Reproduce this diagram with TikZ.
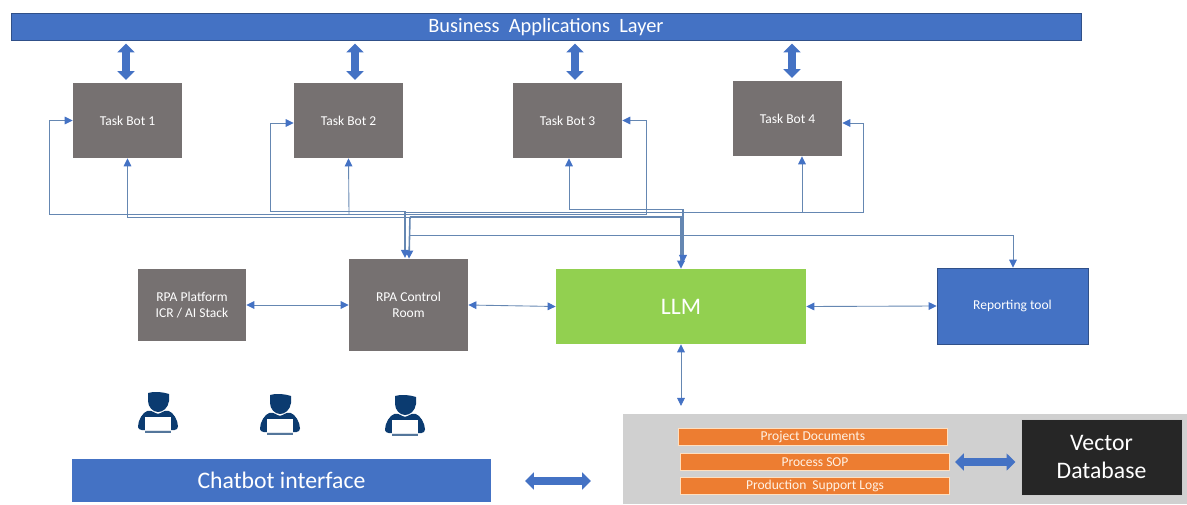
\documentclass[tikz,border=0pt]{standalone}
\usepackage{fontspec}
\setmainfont{Carlito}
\usetikzlibrary{arrows.meta}
\definecolor{barblue}{HTML}{4472C4}
\definecolor{botgray}{HTML}{767171}
\definecolor{llmgreen}{HTML}{92D050}
\definecolor{flowblue}{HTML}{6587B2}
\definecolor{paneGray}{HTML}{D0D0D0}
\definecolor{docorange}{HTML}{ED7D31}
\definecolor{agentnavy}{HTML}{0B3B70}
\tikzset{
	flow/.style={draw=flowblue, line width=0.5pt, -{Triangle[length=4.6pt,width=4.4pt,color=barblue]}},
	flowboth/.style={draw=flowblue, line width=0.5pt, {Triangle[length=4.6pt,width=4.4pt,color=barblue]}-{Triangle[length=4.6pt,width=4.4pt,color=barblue]}},
	bigflow/.style={draw=barblue, line width=4pt, {Triangle[length=5pt,width=9.5pt]}-{Triangle[length=5pt,width=9.5pt]}, shorten >=1.5pt, shorten <=1.5pt},
	plainbox/.style={inner sep=0pt, text=white, align=center, font=\fontsize{7.7}{9.3}\selectfont},
	botbox/.style={plainbox, fill=botgray, minimum width=2.18cm, minimum height=1.5cm},
	docbox/.style={plainbox, fill=docorange, draw=orange!25, line width=0.6pt, minimum width=5.37cm, minimum height=0.34cm, text=white!90!orange},
	agent/.pic={
		\fill[agentnavy] (-10,1) .. controls (-4,-1) and (5,0) .. (11,2) -- (11,9) .. controls (10,16) and (5,20) .. (0,20) .. controls (-5,20) and (-10,15) .. (-10,9) -- cycle;
		\fill[agentnavy, rounded corners=2pt] (-20,38) .. controls (-20,28) and (-15,20) .. (-7,18) -- (0,23) -- (7,18) .. controls (15,20) and (20,28) .. (20,38) -- (-20,38) -- cycle;
		\fill[white] (-13,25) rectangle (13,38);
		\fill[agentnavy!70] (-13,39) rectangle (13,41);
	}
}
\begin{document}
\begin{tikzpicture}[x=0.02cm,y=-0.02cm]
	\useasboundingbox (0,0) rectangle (1187,504);
	
	% top bar and bots
	\node[plainbox, fill=barblue, draw=barblue!70!black, line width=0.4pt, minimum width=21.4cm, minimum height=0.54cm, font=\fontsize{11.6}{13}\selectfont] (Biz) at (546,27) {Business\ \ Applications\ \ Layer};
	\node[botbox] (Bot1) at (127.5,120.5) {Task Bot 1};
	\node[botbox] (Bot2) at (348.5,120.5) {Task Bot 2};
	\node[botbox] (Bot3) at (567.5,120.5) {Task Bot 3};
	\node[botbox] (Bot4) at (787.5,118.5) {Task Bot 4};
	
	% middle row
	\node[plainbox, fill=botgray, minimum width=2.16cm, minimum height=1.44cm] (Platform) at (192,305) {RPA Platform\\ICR / AI Stack};
	\node[plainbox, fill=botgray, minimum width=2.38cm, minimum height=1.84cm] (Control) at (408.5,305) {RPA Control\\Room};
	\node[plainbox, fill=llmgreen, minimum width=5cm, minimum height=1.5cm, font=\fontsize{13.5}{16}\selectfont] (LLM) at (681,306.5) {LLM};
	\node[plainbox, fill=barblue, draw=barblue!70!black, line width=0.4pt, minimum width=3.02cm, minimum height=1.52cm] (Report) at (1012.5,306) {Reporting tool};
	
	% bottom row
	\node[plainbox, fill=barblue, minimum width=8.38cm, minimum height=0.86cm, font=\fontsize{13.5}{15}\selectfont] (Chat) at (281.5,480.5) {Chatbot interface};
	\node[fill=paneGray, inner sep=0pt, minimum width=11.28cm, minimum height=1.8cm] (Pane) at (905,459) {};
	\node[docbox] (Docs) at (813,437) {Project Documents};
	\node[docbox] (Sop) at (815,462) {Process SOP};
	\node[docbox] (Logs) at (815,486) {Production\ \ Support Logs};
	\node[plainbox, fill=black!85, draw=white!80!black, line width=0.4pt, minimum width=3.22cm, minimum height=1.52cm, font=\fontsize{13.5}{16}\selectfont] (Vector) at (1101.5,457) {Vector\\Database};
	
	% users
	\pic at (158,392) {agent};
	\pic at (280,394) {agent};
	\pic at (405,395) {agent};
	
	% layer arrows
	\coordinate (U1) at (126,60);
	\coordinate (U2) at (355,60);
	\coordinate (U3) at (575,60);
	\coordinate (U4) at (792,60);
	\draw[bigflow] (Biz.south -| U1) -- (Bot1.north -| U1);
	\draw[bigflow] (Biz.south -| U2) -- (Bot2.north -| U2);
	\draw[bigflow] (Biz.south -| U3) -- (Bot3.north -| U3);
	\draw[bigflow] (Biz.south -| U4) -- (Bot4.north -| U4);
	
	% wiring points
	\coordinate (H1) at (407,214);
	\coordinate (H2) at (410,217);
	\coordinate (H3) at (405,211);
	\coordinate (H4) at (405,212);
	\coordinate (L1) at (49,214);
	\coordinate (L2) at (270,211);
	\coordinate (T3) at (683,209);
	\coordinate (R3) at (646,214);
	\coordinate (R4) at (863,212);
	\coordinate (Rep) at (1013,235);
	\coordinate (Down1) at (405,258);
	\coordinate (Down2) at (409,258);
	
	% bot returns
	\draw[flow] (H1) -- (L1) |- (Bot1.west);
	\draw[flow] (H2) -| (Bot1.south);
	\draw[flow] (H3) -- (L2) -- (270,123) -- (Bot2.west |- 0,123);
	\draw[flow] (349,214) -- (Bot2.south);
	\draw[flow] (T3) -- (569,209) -- (Bot3.south -| 569,0);
	\draw[flow] (H1) -- (R3) |- (Bot3.east);
	\draw[flow] (H4) -- (802,212) -- (Bot4.south -| 802,0);
	\draw[flow] (802,212) -- (R4) -- (863,123) -- (Bot4.east |- 0,123);
	
	% hub down to control room and llm
	\draw[flow, line width=0.9pt] (H3) -- (Down1);
	\draw[flow, line width=0.9pt] (H2) -- (Down2 |- Control.north);
	\draw[flow, line width=0.9pt] (H2) -- (681,217) -- (LLM.north -| 681,0);
	\draw[flow, line width=0.9pt] (T3) -- (683,263);
	\draw[flow] (409,235) -- (Rep) -- (Report.north -| Rep);
	
	% two way links
	\draw[flowboth] (Platform.east) -- (Control.west);
	\draw[flowboth] (Control.east) -- (LLM.west);
	\draw[flowboth] (LLM.east) -- (Report.west);
	\coordinate (Store) at (681,406);
	\draw[flowboth] (LLM.south -| Store) -- (Store);
	
	\coordinate (C1) at (525,481);
	\coordinate (C2) at (591,481);
	\draw[bigflow, shorten >=0pt, shorten <=0pt] (C1) -- (C2);
	\draw[bigflow, shorten >=3pt, shorten <=3pt] (Sop.east) -- (Vector.west |- Sop.east);
\end{tikzpicture}
\end{document}
